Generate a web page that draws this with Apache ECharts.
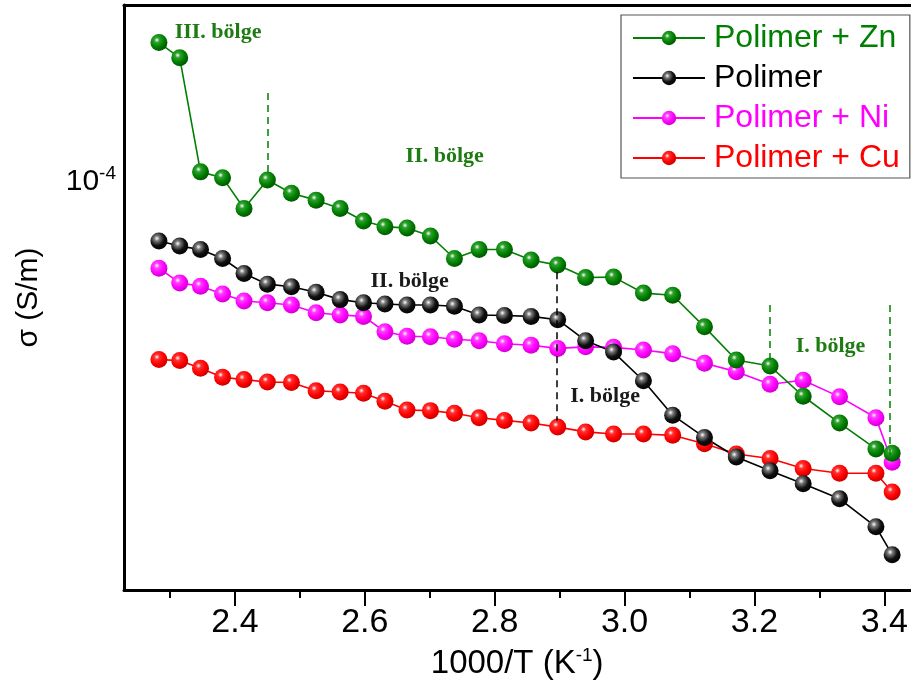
<!DOCTYPE html>
<html>
<head>
<meta charset="utf-8">
<script src="https://cdn.jsdelivr.net/npm/echarts@6/dist/echarts.min.js"></script>
<style>
  html, body { margin: 0; padding: 0; background: #fff; }
  #chart { width: 911px; height: 695px; }
</style>
</head>
<body>
<div id="chart"></div>
<script>
// 1000/T values (K^-1), same for all four samples
var xVals = [2.283, 2.315, 2.347, 2.381, 2.414, 2.450, 2.487, 2.525, 2.562, 2.598,
             2.631, 2.665, 2.701, 2.738, 2.776, 2.815, 2.856, 2.897, 2.940, 2.983,
             3.029, 3.074, 3.123, 3.172, 3.224, 3.275, 3.331, 3.387, 3.412];

// conductivity (S/m)
var zn  = [1.60e-4, 1.52e-4, 1.035e-4, 1.015e-4, 0.915e-4, 1.007e-4, 0.963e-4, 0.941e-4, 0.915e-4, 0.877e-4,
           0.860e-4, 0.857e-4, 0.834e-4, 0.773e-4, 0.797e-4, 0.797e-4, 0.769e-4, 0.756e-4, 0.725e-4, 0.726e-4,
           0.688e-4, 0.683e-4, 0.614e-4, 0.549e-4, 0.538e-4, 0.486e-4, 0.444e-4, 0.407e-4, 0.401e-4];
var pol = [0.820e-4, 0.806e-4, 0.797e-4, 0.773e-4, 0.735e-4, 0.709e-4, 0.703e-4, 0.690e-4, 0.673e-4, 0.666e-4,
           0.663e-4, 0.661e-4, 0.661e-4, 0.658e-4, 0.639e-4, 0.638e-4, 0.636e-4, 0.629e-4, 0.586e-4, 0.564e-4,
           0.512e-4, 0.456e-4, 0.423e-4, 0.396e-4, 0.378e-4, 0.362e-4, 0.344e-4, 0.313e-4, 0.285e-4];
var ni  = [0.748e-4, 0.712e-4, 0.704e-4, 0.686e-4, 0.670e-4, 0.666e-4, 0.661e-4, 0.644e-4, 0.639e-4, 0.636e-4,
           0.604e-4, 0.595e-4, 0.594e-4, 0.589e-4, 0.586e-4, 0.580e-4, 0.577e-4, 0.571e-4, 0.574e-4, 0.573e-4,
           0.568e-4, 0.561e-4, 0.543e-4, 0.528e-4, 0.506e-4, 0.513e-4, 0.485e-4, 0.452e-4, 0.389e-4];
var cu  = [0.550e-4, 0.548e-4, 0.534e-4, 0.518e-4, 0.514e-4, 0.510e-4, 0.509e-4, 0.495e-4, 0.493e-4, 0.491e-4,
           0.478e-4, 0.464e-4, 0.463e-4, 0.459e-4, 0.452e-4, 0.448e-4, 0.444e-4, 0.438e-4, 0.431e-4, 0.428e-4,
           0.428e-4, 0.426e-4, 0.414e-4, 0.400e-4, 0.394e-4, 0.381e-4, 0.375e-4, 0.375e-4, 0.352e-4];

var majorTicks = [2.4, 2.6, 2.8, 3.0, 3.2, 3.4];
var minorTicks = [2.3, 2.5, 2.7, 2.9, 3.1, 3.3];

// region labels and the dashed separators, in data units
var greenNotes = [['III. bölge', 2.374, 1.658e-4], ['II. bölge', 2.723, 1.092e-4], ['I. bölge', 3.317, 0.576e-4]];
var blackNotes = [['II. bölge', 2.669, 0.716e-4], ['I. bölge', 2.970, 0.486e-4]];
var greenCuts = [[2.450, 1.350e-4, 1.034e-4], [3.223, 0.661e-4, 0.545e-4], [3.409, 0.661e-4, 0.398e-4]];
var blackCuts = [[2.896, 0.738e-4, 0.448e-4]];

var FONT = 'Arial, "Liberation Sans", sans-serif';

function pairs(ys) {
  return xVals.map(function (x, i) { return [x, ys[i]]; });
}
function ball(c0, c1, c2) {
  return {
    type: 'radial', x: 0.38, y: 0.35, r: 0.7,
    colorStops: [{offset: 0, color: '#ffffff'}, {offset: 0.22, color: c0},
                 {offset: 0.6, color: c1}, {offset: 1, color: c2}]
  };
}
function notes(list, color) {
  return {
    symbol: 'circle', symbolSize: 1, silent: true,
    itemStyle: {color: 'rgba(0,0,0,0)'},
    label: {show: true, position: 'inside', formatter: '{b}', color: color,
            fontFamily: '"Liberation Serif", "Times New Roman", serif', fontWeight: 'bold', fontSize: 22},
    data: list.map(function (n) { return {name: n[0], coord: [n[1], n[2]]}; })
  };
}
function cuts(list, color) {
  return {
    symbol: ['none', 'none'], silent: true,
    label: {show: false},
    lineStyle: {color: color, type: [7, 5], width: 1.5},
    data: list.map(function (c) { return [{coord: [c[0], c[1]]}, {coord: [c[0], c[2]]}]; })
  };
}
function makeSeries(name, ys, line, grad) {
  return {
    name: name, type: 'line', data: pairs(ys),
    symbol: 'circle', symbolSize: 17,
    lineStyle: {color: line, width: 1.6},
    itemStyle: {color: grad, borderWidth: 0},
    emphasis: {disabled: true},
    z: 3
  };
}

var sCu  = makeSeries('Polimer + Cu', cu, '#ff0000', ball('#ff3030', '#ff0000', '#c00000'));
var sNi  = makeSeries('Polimer + Ni', ni, '#ff00ff', ball('#ff40ff', '#ff00ff', '#c800c8'));
var sPol = makeSeries('Polimer', pol, '#000000', ball('#7a7a7a', '#111111', '#000000'));
sPol.markPoint = notes(blackNotes, '#1a1a1a');
sPol.markLine = cuts(blackCuts, '#000000');
var sZn  = makeSeries('Polimer + Zn', zn, '#008000', ball('#2fa02f', '#008000', '#005000'));
sZn.markPoint = notes(greenNotes, '#1e7a12');
sZn.markLine = cuts(greenCuts, '#008000');

var myChart = echarts.init(document.getElementById('chart'));
var option = {
  animation: false,
  backgroundColor: '#ffffff',
  grid: {left: 124, top: 5, right: 0, bottom: 105},
  legend: {
    orient: 'vertical', left: 621, top: 15,
    padding: [7, 10, 4, 11], itemGap: 8,
    itemWidth: 72, itemHeight: 18,
    borderColor: '#555', borderWidth: 1.2,
    textStyle: {fontSize: 32, fontFamily: FONT, padding: [0, 0, 0, 4]},
    data: [
      {name: 'Polimer + Zn', textStyle: {color: '#008000'}},
      {name: 'Polimer', textStyle: {color: '#000000'}},
      {name: 'Polimer + Ni', textStyle: {color: '#ff00ff'}},
      {name: 'Polimer + Cu', textStyle: {color: '#ff0000'}}
    ]
  },
  xAxis: [
    {
      type: 'value', position: 'bottom', min: 2.2292, max: 3.44,
      name: '1000/T (K{sup|-1})', nameLocation: 'middle', nameGap: 56,
      nameTextStyle: {fontSize: 33, fontFamily: FONT, color: '#000',
                      rich: {sup: {fontSize: 19, fontFamily: FONT, padding: [0, 0, 16, 0]}}},
      axisLine: {onZero: false, lineStyle: {color: '#000', width: 3}},
      axisTick: {show: true, length: 16, lineStyle: {color: '#000', width: 2}, customValues: majorTicks},
      axisLabel: {fontSize: 34, fontFamily: FONT, color: '#000', margin: 16,
                  customValues: majorTicks, formatter: function (v) { return v.toFixed(1); }},
      splitLine: {show: false}
    },
    {
      type: 'value', position: 'bottom', min: 2.2292, max: 3.44,
      axisLine: {show: false, onZero: false},
      axisTick: {show: true, length: 8, lineStyle: {color: '#000', width: 2}, customValues: minorTicks},
      axisLabel: {show: false},
      splitLine: {show: false}
    },
    {
      type: 'value', position: 'top', min: 2.2292, max: 3.44,
      axisLine: {show: true, onZero: false, lineStyle: {color: '#000', width: 3}},
      axisTick: {show: false}, axisLabel: {show: false}, splitLine: {show: false}
    }
  ],
  yAxis: {
    type: 'log', logBase: 10, min: 2.53e-5, max: 1.816e-4,
    name: 'σ (S/m)', nameLocation: 'middle', nameGap: 80,
    nameTextStyle: {fontSize: 30, fontFamily: FONT, color: '#000'},
    axisLine: {show: true, onZero: false, lineStyle: {color: '#000', width: 3}},
    axisTick: {show: false},
    splitLine: {show: false},
    axisLabel: {
      margin: 8, fontSize: 30, fontFamily: FONT, color: '#000',
      formatter: function (v) {
        var e = Math.log(v) / Math.LN10;
        var r = Math.round(e);
        if (Math.abs(e - r) > 1e-6) return '';
        return '10{sup|' + r + '}';
      },
      rich: {sup: {fontSize: 19, fontFamily: FONT, color: '#000', padding: [0, 0, 16, 0]}}
    }
  },
  series: [sCu, sNi, sPol, sZn]
};
myChart.setOption(option);
</script>
</body>
</html>
